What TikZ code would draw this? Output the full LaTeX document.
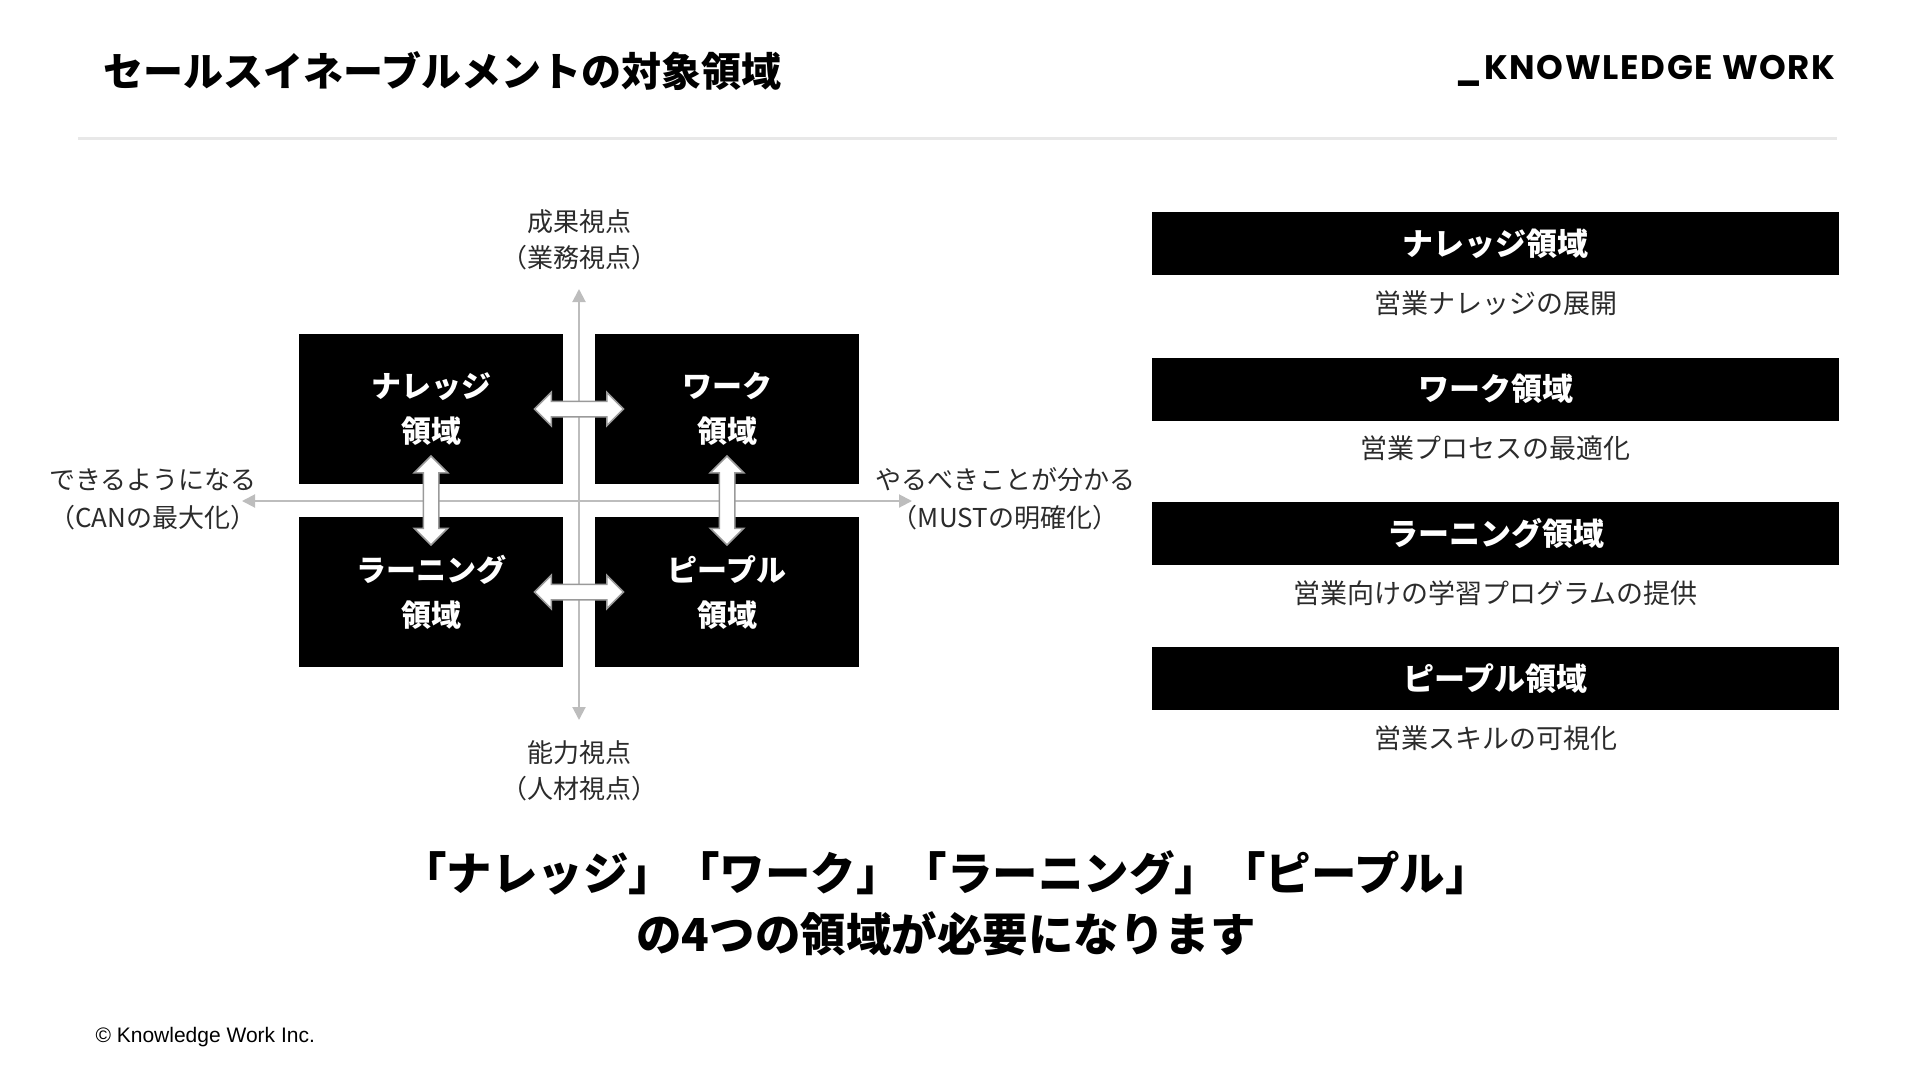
\documentclass[tikz,border=0pt]{standalone}
\usepackage{fontspec}
\setmainfont{Noto Sans CJK JP}
\newfontfamily\kwfont{Poppins}[LetterSpace=5]
\newfontfamily\copyfont{Liberation Sans}
\usetikzlibrary{arrows.meta,positioning,calc,shapes.arrows}
\usepackage{xcolor}
\definecolor{axisgray}{HTML}{BDBDBD}
\definecolor{rulegray}{HTML}{E8E8E8}
\definecolor{arrowgray}{HTML}{9A9A9A}
\definecolor{labelgray}{HTML}{2B2B2B}

\begin{document}
\begin{tikzpicture}[x=1pt, y=-1pt,
  quad/.style={fill=black, text=white, minimum width=264pt, minimum height=150pt, align=center, font=\fontsize{30}{45}\selectfont\bfseries},
  bar/.style={fill=black, text=white, minimum width=687pt, minimum height=63pt, font=\fontsize{31}{31}\selectfont\bfseries},
  desc/.style={inner sep=0pt, font=\fontsize{27}{27}\selectfont, text=labelgray},
  axislabel/.style={align=center, font=\fontsize{26}{36}\selectfont, text=labelgray},
  axis/.style={draw=axisgray, line width=2pt, {Triangle[width=13pt,length=13pt]}-{Triangle[width=13pt,length=13pt]}},
  dblarrow/.style={double arrow, draw=arrowgray, fill=white, line width=1.5pt, inner sep=7pt, double arrow head extend=9pt, minimum height=89pt}]
  \useasboundingbox (0,0) rectangle (1920,1080);

  % header
  \node[anchor=west, font=\fontsize{40}{40}\selectfont\bfseries] (title) at (100,71) {セールスイネーブルメントの対象領域};
  \node[anchor=east, font=\kwfont\fontsize{34}{34}\selectfont\bfseries] (logo) at (1839,71) {\_KNOWLEDGE WORK};
  \coordinate (ruleL) at (78,138);
  \coordinate (ruleR) at (1837,138);
  \draw[rulegray, line width=3pt] (ruleL) -- (ruleR);

  % axes
  \coordinate (ytop) at (579,289);
  \coordinate (ybot) at (579,720);
  \coordinate (xleft) at (242,501);
  \coordinate (xright) at (912,501);
  \draw[axis] (ytop) -- (ybot);
  \draw[axis] (xleft) -- (xright);

  \node[axislabel] (labtop) at (579,240) {成果視点\\（業務視点）};
  \node[axislabel] (labbot) at (579,771) {能力視点\\（人材視点）};
  \node[axislabel, font=\fontsize{26}{38}\selectfont] (lableft) at (153,499) {できるようになる\\（CANの最大化）};
  \node[axislabel, font=\fontsize{26}{38}\selectfont] (labright) at (1005,499) {やるべきことが分かる\\（MUSTの明確化）};

  % quadrants
  \node[quad] (knowledge) at (431,409) {ナレッジ\\領域};
  \node[quad] (work) at (727,409) {ワーク\\領域};
  \node[quad] (learning) at (431,592) {ラーニング\\領域};
  \node[quad] (people) at (727,592) {ピープル\\領域};

  \node[dblarrow] (kw) at ($(knowledge)!0.5!(work)$) {};
  \node[dblarrow] (lp) at ($(learning)!0.5!(people)$) {};
  \node[dblarrow, rotate=90] (kl) at ($(knowledge)!0.5!(learning)$) {};
  \node[dblarrow, rotate=90] (wp) at ($(work)!0.5!(people)$) {};

  % right column
  \node[bar] (bar1) at (1495.5,243.5) {ナレッジ領域};
  \node[desc, below=15pt of bar1] (desc1) {営業ナレッジの展開};
  \node[bar] (bar2) at (1495.5,389) {ワーク領域};
  \node[desc, below=15pt of bar2] (desc2) {営業プロセスの最適化};
  \node[bar] (bar3) at (1495.5,533.5) {ラーニング領域};
  \node[desc, below=15pt of bar3] (desc3) {営業向けの学習プログラムの提供};
  \node[bar] (bar4) at (1495.5,678.5) {ピープル領域};
  \node[desc, below=15pt of bar4] (desc4) {営業スキルの可視化};

  % message
  \node[align=center, font=\fontsize{45.5}{61}\selectfont\bfseries] (message) at (946,903) {「ナレッジ」「ワーク」「ラーニング」「ピープル」\\の4つの領域が必要になります};

  \node[anchor=west, font=\copyfont\fontsize{21}{21}\selectfont] (copy) at (92,1037) {© Knowledge Work Inc.};
\end{tikzpicture}
\end{document}
